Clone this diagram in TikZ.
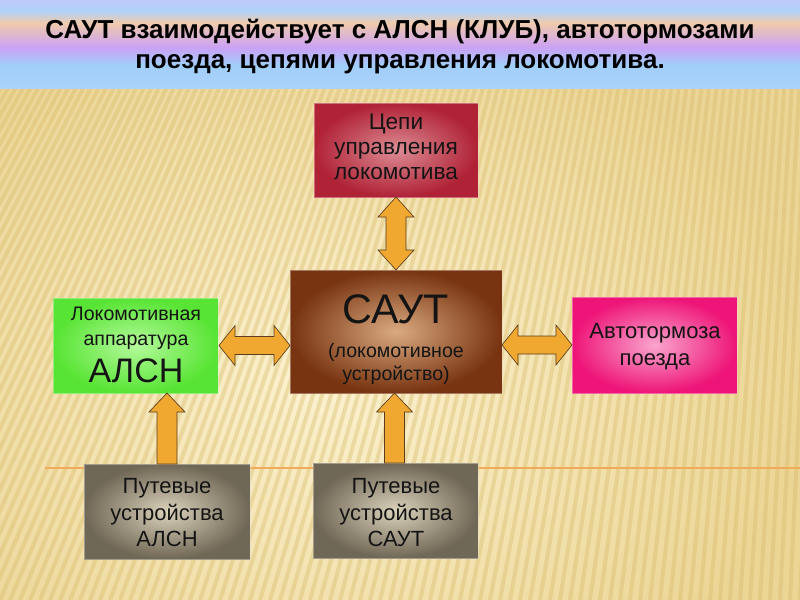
\documentclass[tikz,border=0pt]{standalone}
\usepackage{fontspec}
\setmainfont{Liberation Sans}
\usetikzlibrary{calc}

\definecolor{tb0}{RGB}{192,200,250}
\definecolor{tb1}{RGB}{176,210,250}
\definecolor{tb2}{RGB}{240,202,172}
\definecolor{tb3}{RGB}{202,162,245}
\definecolor{tb4}{RGB}{160,206,250}
\definecolor{tb5}{RGB}{172,210,250}
\pgfdeclareverticalshading{titleband}{100bp}{color(0bp)=(tb5); color(25bp)=(tb5); color(38bp)=(tb4); color(48bp)=(tb3); color(62bp)=(tb2); color(69bp)=(tb1); color(75bp)=(tb0); color(100bp)=(tb0)}

\definecolor{bgin}{RGB}{252,242,208}
\definecolor{bgout}{RGB}{236,214,150}
\definecolor{stripecol}{RGB}{216,188,108}
\definecolor{linecol}{RGB}{240,170,90}
\definecolor{arrfill}{RGB}{240,168,48}
\definecolor{arrdraw}{RGB}{90,62,30}
\definecolor{redout}{RGB}{176,34,54}
\definecolor{redin}{RGB}{220,140,148}
\definecolor{brout}{RGB}{120,52,16}
\definecolor{brin}{RGB}{218,170,128}
\definecolor{grout}{RGB}{88,228,52}
\definecolor{grin}{RGB}{180,250,155}
\definecolor{mgout}{RGB}{238,20,120}
\definecolor{mgin}{RGB}{250,165,205}
\definecolor{gyout}{RGB}{112,104,86}
\definecolor{gyin}{RGB}{218,210,186}
\definecolor{txt}{RGB}{20,20,20}

\begin{document}
\begin{tikzpicture}[x=0.75pt,y=-0.75pt,
  box/.style={rectangle, inner sep=0pt, outer sep=0pt,
    draw=white, draw opacity=0.35, line width=0.6pt},
  ln/.style={anchor=base, inner sep=0pt, text=txt},
  f17/.style={font=\fontsize{17}{19}\selectfont},
  f16/.style={font=\fontsize{16.5}{19}\selectfont},
  f15/.style={font=\fontsize{14.7}{17}\selectfont},
  titleln/.style={anchor=base, inner sep=0pt, text=black, font=\bfseries\fontsize{19.5}{22}\selectfont},
  arr/.style={fill=arrfill, draw=arrdraw, line width=0.5pt, line join=miter},
  stripe/.style={draw=stripecol, line width=3pt, opacity=0.4}
]
\useasboundingbox (0,0) rectangle (800,600);

% background
\shade[inner color=bgin, outer color=bgout] (-150,0) rectangle (800,760);
\begin{scope}
  \clip (0,88) rectangle (800,600);
  \foreach \x in {-700,-690,...,950}
    \draw[stripe] (889,-1478) -- (\x,600);
\end{scope}
\draw[linecol, line width=1pt] (45,468) -- (800,468);

% title band
\shade[shading=titleband] (0,0) rectangle (800,88);
\node[titleln] (title1) at (400,38) {САУТ взаимодействует с АЛСН (КЛУБ), автотормозами};
\node[titleln] (title2) at (400,68) {поезда, цепями управления локомотива.};

% boxes
\node[box, shade, inner color=redin, outer color=redout,
  minimum width=123pt, minimum height=70.5pt] (cep) at (396,150) {};
\node[box, shade, inner color=brin, outer color=brout,
  minimum width=159pt, minimum height=92.25pt] (saut) at (396,331.5) {};
\node[box, shade, inner color=grin, outer color=grout,
  minimum width=123.75pt, minimum height=71.25pt] (alsn) at (135.5,345.5) {};
\node[box, shade, inner color=mgin, outer color=mgout,
  minimum width=123.75pt, minimum height=72pt] (auto) at (654.5,345) {};
\node[box, shade, inner color=gyin, outer color=gyout,
  minimum width=124.5pt, minimum height=71.25pt] (pa) at (167,511.5) {};
\node[box, shade, inner color=gyin, outer color=gyout,
  minimum width=123.75pt, minimum height=71.25pt] (ps) at (395.5,510.5) {};

% box texts
\node[ln, f17] (cep1) at (396,129) {Цепи};
\node[ln, f17] (cep2) at (396,154) {управления};
\node[ln, f17] (cep3) at (396,179) {локомотива};

\node[ln, font=\fontsize{31}{34}\selectfont] (saut1) at (396,323) {САУТ};
\node[ln, f15] (saut2) at (396,357) {(локомотивное};
\node[ln, f15] (saut3) at (396,380) {устройство)};

\node[ln, f15] (alsn1) at (136,320) {Локомотивная};
\node[ln, f15] (alsn2) at (136,345) {аппаратура};
\node[ln, font=\fontsize{25.5}{28}\selectfont] (alsn3) at (136,382) {АЛСН};

\node[ln, f16] (auto1) at (655,338) {Автотормоза};
\node[ln, f16] (auto2) at (655,365) {поезда};

\node[ln, f16] (pa1) at (167,493) {Путевые};
\node[ln, f16] (pa2) at (167,520) {устройства};
\node[ln, f16] (pa3) at (167,546) {АЛСН};

\node[ln, f16] (ps1) at (396,493) {Путевые};
\node[ln, f16] (ps2) at (396,520) {устройства};
\node[ln, f16] (ps3) at (396,546) {САУТ};

% connectors
% vertical double arrow cep <-> saut
\coordinate (va) at (cep.south);
\coordinate (vb) at (va |- saut.north);
\draw[arr] (va) -- ($(va)+(18,20)$) -- ($(va)+(10,20)$) -- ($(vb)+(10,-20)$)
  -- ($(vb)+(18,-20)$) -- (vb) -- ($(vb)+(-18,-20)$) -- ($(vb)+(-10,-20)$)
  -- ($(va)+(-10,20)$) -- ($(va)+(-18,20)$) -- cycle;

% horizontal double arrow alsn <-> saut
\coordinate (la) at ($(alsn.east)+(1,0)$);
\coordinate (lb) at (saut.west |- la);
\draw[arr] (la) -- ($(la)+(16,-20)$) -- ($(la)+(16,-9)$) -- ($(lb)+(-16,-9)$)
  -- ($(lb)+(-16,-20)$) -- (lb) -- ($(lb)+(-16,20)$) -- ($(lb)+(-16,9)$)
  -- ($(la)+(16,9)$) -- ($(la)+(16,20)$) -- cycle;

% horizontal double arrow saut <-> auto
\coordinate (rb) at (auto.west);
\coordinate (ra) at (saut.east |- rb);
\draw[arr] (ra) -- ($(ra)+(16,-20)$) -- ($(ra)+(16,-9)$) -- ($(rb)+(-16,-9)$)
  -- ($(rb)+(-16,-20)$) -- (rb) -- ($(rb)+(-16,20)$) -- ($(rb)+(-16,9)$)
  -- ($(ra)+(16,9)$) -- ($(ra)+(16,20)$) -- cycle;

% up arrow pa -> alsn
\coordinate (ua) at (pa.north);
\coordinate (ut) at (ua |- alsn.south);
\draw[arr] (ut) -- ($(ut)+(18,19)$) -- ($(ut)+(10,19)$) -- ($(ua)+(10,0)$)
  -- ($(ua)+(-10,0)$) -- ($(ut)+(-10,19)$) -- ($(ut)+(-18,19)$) -- cycle;

% up arrow ps -> saut
\coordinate (sa) at ($(ps.north)+(-1,0)$);
\coordinate (st) at (sa |- saut.south);
\draw[arr] (st) -- ($(st)+(18,19)$) -- ($(st)+(10,19)$) -- ($(sa)+(10,0)$)
  -- ($(sa)+(-10,0)$) -- ($(st)+(-10,19)$) -- ($(st)+(-18,19)$) -- cycle;
\end{tikzpicture}
\end{document}
